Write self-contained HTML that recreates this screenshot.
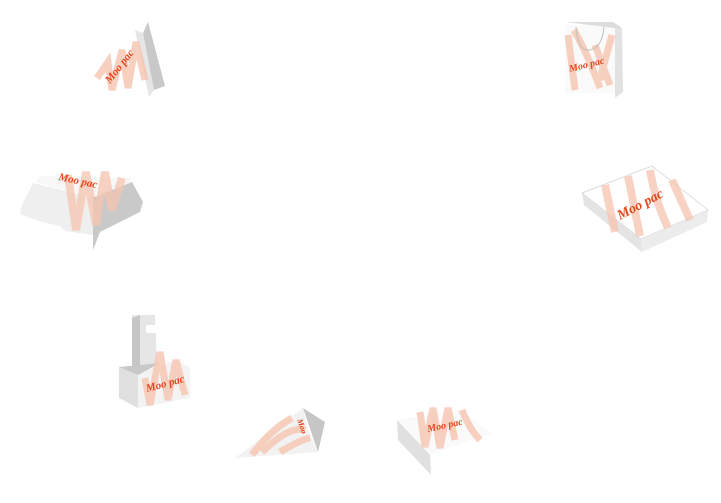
<!DOCTYPE html>
<html><head><meta charset="utf-8"><style>
html,body{margin:0;padding:0;background:#fff;width:721px;height:503px;overflow:hidden}
svg{display:block}
text{font-family:"Liberation Serif",serif;font-style:italic;font-weight:bold;fill:#e6461b}
</style></head><body>
<svg width="721" height="503" viewBox="0 0 721 503" xmlns="http://www.w3.org/2000/svg">

<!-- Item 1: triangular -->
<polygon points="135,30 143,33 154,90 149,97" fill="#e6e6e6"/>
<polygon points="148,22 165,86 154,90 143,33" fill="#c8c8c8"/>
<path d="M97,78 L108,62 L112,90 L122,50 L128,88 L136,42 L145,80" fill="none" stroke="#f6c4b0" stroke-width="7" stroke-opacity="0.8"/>
<text x="0" y="0" font-size="11" transform="translate(110,84) rotate(-52)">Moo pac</text>

<!-- Item 2: bag -->
<polygon points="565,25 615,25 616,93 565,93" fill="#fafafa"/>
<polygon points="565,22 613,22 622,28 615,28" fill="#dcdcdc"/>
<polygon points="615,28 622,28 623,92 615,98" fill="#e2e2e2"/>
<path d="M568,35 L575,90 M574,30 Q588,55 600,88 M595,45 L610,85 M612,35 Q605,60 600,80" fill="none" stroke="#f6c4b0" stroke-width="7" stroke-opacity="0.8"/>
<path d="M576,27 Q578,52 590,50 Q602,48 604,27" fill="none" stroke="#bdbdbd" stroke-width="1"/>
<text x="0" y="0" font-size="10" transform="translate(570,72) rotate(-14)">Moo pac</text>

<!-- Item 3: burger box -->
<polygon points="33,183 93,197 93,235 65,231 60,226 42,222 20,214 22,205" fill="#efefef"/>
<polygon points="93,197 132,182 143,202 140,212 100,232 93,250" fill="#c9c9c9"/>
<polygon points="35,182 95,197 132,182 130,178 40,176" fill="#f7f7f7"/>
<path d="M68,175 L76,230 L86,172 L96,225 L105,172 L112,210 L122,178" fill="none" stroke="#f6c4b0" stroke-width="8" stroke-opacity="0.75"/>
<text x="0" y="0" font-size="11" transform="translate(58,180) rotate(12)">Moo pac</text>

<!-- Item 4: pizza box -->
<polygon points="582,193 652,166 708,210 641,239" fill="#ffffff" stroke="#cfcfcf" stroke-width="0.7"/>
<polygon points="582,193 641,239 642,252 584,205" fill="#e4e4e4"/>
<polygon points="641,239 708,210 707,222 642,252" fill="#ececec"/>
<path d="M605,185 L615,232 M628,176 L640,236 M650,170 Q655,200 668,228 M672,180 L690,220" fill="none" stroke="#f6c4b0" stroke-width="8" stroke-opacity="0.75"/>
<text x="0" y="0" font-size="14" transform="translate(620,220) rotate(-28)">Moo pac</text>

<!-- Item 5: carrier -->
<polygon points="132,315 155,315 157,368 134,368" fill="#e6e6e6"/>
<polygon points="132,318 140,315 140,370 132,372" fill="#c6c6c6"/>
<rect x="146" y="325" width="12" height="8" fill="#fff" rx="2"/>
<polygon points="119,367 160,365 178,360 190,368 190,398 138,408 119,398" fill="#f3f3f3"/>
<polygon points="119,367 138,375 138,408 119,398" fill="#e0e0e0"/>
<polygon points="119,367 160,363 138,375" fill="#c8c8c8"/>
<path d="M145,378 L150,405 L160,352 L168,400 L176,360 L185,395" fill="none" stroke="#f6c4b0" stroke-width="7" stroke-opacity="0.8"/>
<text x="0" y="0" font-size="11" transform="translate(147,392) rotate(-15)">Moo pac</text>

<!-- Item 6: cone -->
<polygon points="303,408 325,422 318,452" fill="#c6c6c6"/>
<polygon points="303,408 308,430 318,452 235,458" fill="#f2f2f2"/>
<path d="M252,455 Q270,430 292,418 M262,452 Q290,425 305,430 M280,452 Q300,440 310,438" fill="none" stroke="#f6c4b0" stroke-width="7" stroke-opacity="0.8"/>
<text x="0" y="0" font-size="8" transform="translate(297,420) rotate(70)">Moo</text>

<!-- Item 7: tray -->
<polygon points="397,420 430,455 492,433 460,410" fill="#fafafa"/>
<polygon points="397,420 430,455 431,475 398,440" fill="#e0e0e0"/>
<path d="M420,412 L425,447 L433,408 L440,448 L448,408 L455,440 M462,410 Q470,430 480,440" fill="none" stroke="#f6c4b0" stroke-width="7" stroke-opacity="0.8"/>
<text x="0" y="0" font-size="10" transform="translate(428,432) rotate(-12)">Moo pac</text>
</svg>
</body></html>
